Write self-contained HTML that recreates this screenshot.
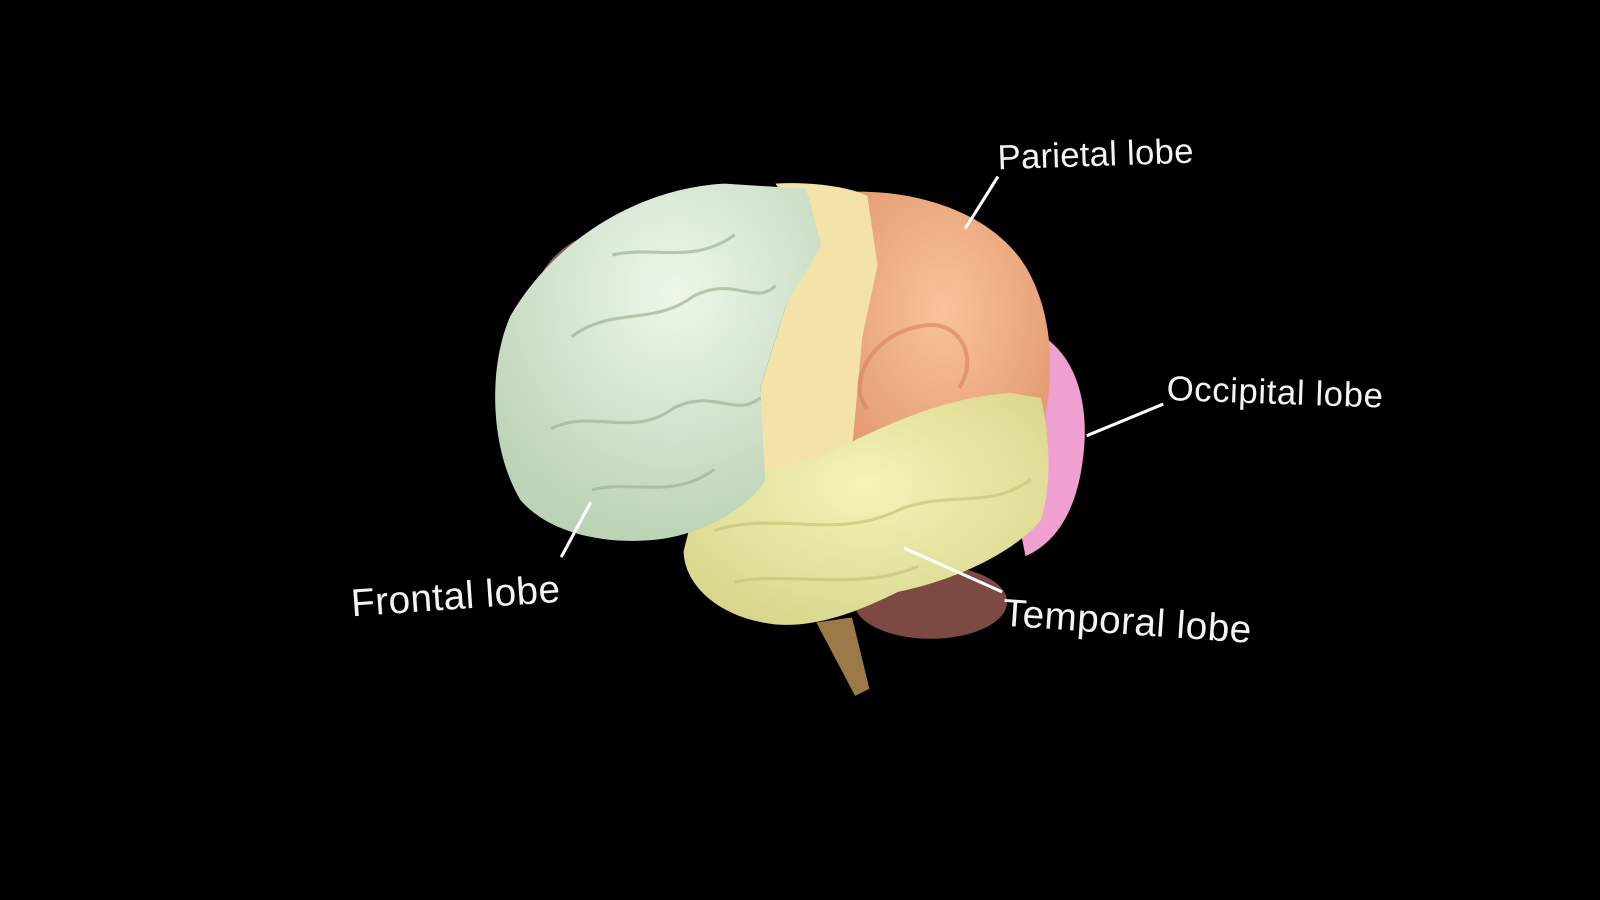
<!DOCTYPE html>
<html><head><meta charset="utf-8"><style>
html,body{margin:0;padding:0;background:#000;width:1600px;height:900px;overflow:hidden}
svg{display:block}
text{font-family:"Liberation Sans",sans-serif;fill:#f4f4f4}
</style></head><body>
<svg width="1600" height="900" viewBox="0 0 1568 882" preserveAspectRatio="none">
<rect width="1568" height="882" fill="#000"/>
<defs>
<radialGradient id="gF" cx="0.55" cy="0.3" r="0.7"><stop offset="0" stop-color="#eef7ea"/><stop offset="1" stop-color="#bcd3b6"/></radialGradient>
<radialGradient id="gT" cx="0.5" cy="0.4" r="0.7"><stop offset="0" stop-color="#f5f3b8"/><stop offset="1" stop-color="#d6d488"/></radialGradient>
<radialGradient id="gP" cx="0.5" cy="0.4" r="0.7"><stop offset="0" stop-color="#f9c39c"/><stop offset="1" stop-color="#e0946a"/></radialGradient>
</defs>
<path d="M800 610 L835 605 L852 675 L838 682 Z" fill="#9c7a48"/>
<ellipse cx="912" cy="590" rx="75" ry="36" fill="#7c4a42"/>
<path d="M530 270 C545 240 580 225 600 225 L560 300 Z" fill="#8a5a4e"/>
<path d="M1000 320 C1040 330 1065 370 1063 430 C1060 490 1040 530 1005 545 L990 470 Z" fill="#ef9fd0"/>
<path d="M830 188 C900 185 980 210 1010 270 C1030 310 1035 360 1022 420 L1000 460 L880 480 L820 480 L845 300 Z" fill="url(#gP)"/>
<path d="M760 180 C790 178 830 182 850 192 L860 260 L845 330 L835 440 L820 480 L750 490 L745 380 L770 300 L800 240 Z" fill="#f3e3a8"/>
<path d="M680 500 C700 470 760 460 800 450 C860 420 920 390 990 385 L1020 390 C1030 430 1030 480 1020 510 C990 545 930 570 880 580 C840 600 800 615 760 612 C700 605 670 570 670 540 Z" fill="url(#gT)"/>
<path d="M710 180 C620 185 540 240 500 310 C478 360 480 440 510 490 C540 525 600 535 650 528 C700 520 740 490 750 470 L745 380 L770 300 L805 240 L790 185 Z" fill="url(#gF)"/>
<g fill="none" stroke="#9fb597" stroke-width="3" opacity="0.7">
<path d="M560 330 C600 300 640 320 680 290 C720 270 740 300 760 280"/>
<path d="M540 420 C580 400 620 430 660 400 C700 380 720 410 745 390"/>
<path d="M600 250 C640 240 680 260 720 230"/>
<path d="M580 480 C620 470 660 490 700 460"/>
</g>
<g fill="none" stroke="#c9c47a" stroke-width="3" opacity="0.7">
<path d="M700 520 C760 500 820 530 880 500 C930 480 970 500 1010 470"/>
<path d="M720 570 C780 560 840 580 900 555"/>
</g>
<path d="M850 400 C830 380 850 330 900 320 C940 310 960 350 940 380" fill="none" stroke="#d98060" stroke-width="4" opacity="0.6"/>
<g stroke="#fff" stroke-width="3">
<line x1="978" y1="173" x2="946" y2="224"/>
<line x1="1140" y1="396" x2="1065" y2="427"/>
<line x1="579" y1="492" x2="550" y2="546"/>
<line x1="886" y1="537" x2="982" y2="580"/>
</g>
<text x="978" y="166" font-size="34" textLength="192" transform="rotate(-2 978 166)">Parietal lobe</text>
<text x="1143" y="392" font-size="34" textLength="212" transform="rotate(2 1143 392)">Occipital lobe</text>
<text x="345" y="604" font-size="38" textLength="205" transform="rotate(-4 345 604)">Frontal lobe</text>
<text x="982" y="613" font-size="38" textLength="244" transform="rotate(4 982 613)">Temporal lobe</text>
</svg>
</body></html>
